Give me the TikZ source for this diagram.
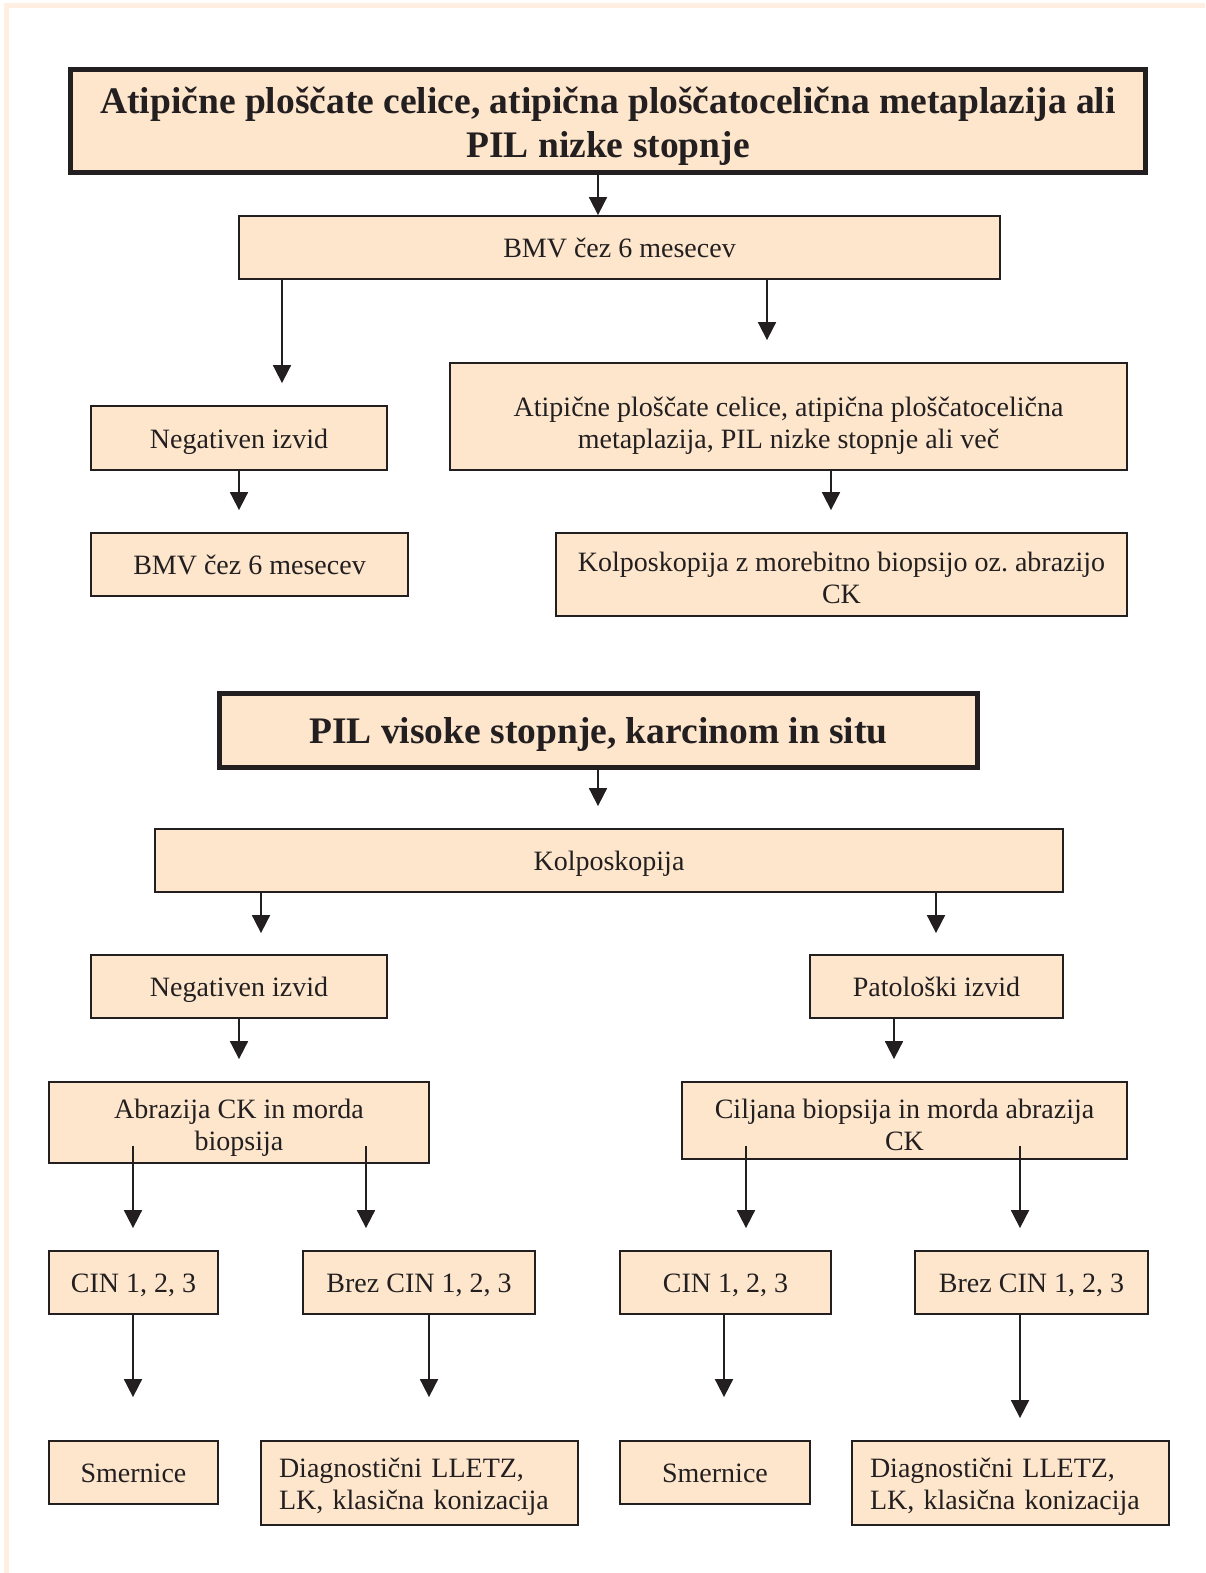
\documentclass[tikz,border=0pt]{standalone}
\usepackage{fontspec}
\setmainfont{Liberation Serif}
\usetikzlibrary{arrows.meta,calc}
\definecolor{boxfill}{RGB}{253,230,204}
\definecolor{ink}{RGB}{35,31,32}
\definecolor{framec}{RGB}{254,239,226}
\newcommand{\bxl}[2][10pt]{\raisebox{-#1}[0pt][0pt]{#2}}
\frenchspacing
\begin{document}
\begin{tikzpicture}[x=1pt,y=-1pt,
  box/.style={draw=ink, line width=1.8pt, fill=boxfill, text=ink, inner sep=0pt,
    font=\fontsize{28}{32}\selectfont, align=center},
  headbox/.style={box, line width=5pt, font=\fontsize{37.5}{44}\bfseries\selectfont},
  arr/.style={draw=ink, line width=1.8pt, -{Triangle[width=18pt,length=18pt]}}]
\useasboundingbox (0,0) rectangle (1205,1573);
% frame
\fill[framec] (4,3) rectangle (1205,8);
\fill[framec] (4,3) rectangle (9,1573);
% columns
\foreach \n/\x in {598/598,282/282,767/767,239/239,831/831,261/261,936/936,894/894,133/133,366/366,746/746,1020/1020,429/429,724/724}
  {\coordinate (x\n) at (\x,0);}
% nodes
\node[headbox, minimum width=1075pt, minimum height=103pt] (h1) at (608,121)
  {\bxl[15pt]{Atipične ploščate celice, atipična ploščatocelična metaplazija ali}\\\bxl[15pt]{PIL nizke stopnje}};
\node[box, minimum width=761pt, minimum height=63pt] (bmv) at (619.5,247.5) {\bxl{BMV čez 6 mesecev}};
\node[box, minimum width=296pt, minimum height=64pt] (neg1) at (239,438) {\bxl{Negativen izvid}};
\node[box, minimum width=677pt, minimum height=107pt] (atip) at (788.5,416.5)
  {\bxl[16pt]{Atipične ploščate celice, atipična ploščatocelična}\\\bxl[16pt]{metaplazija, PIL nizke stopnje ali več}};
\node[box, minimum width=317pt, minimum height=63pt] (bmv2) at (249.5,564.5) {\bxl{BMV čez 6 mesecev}};
\node[box, minimum width=571pt, minimum height=83pt] (kolz) at (841.5,574.5)
  {\bxl[12.5pt]{Kolposkopija z morebitno biopsijo oz. abrazijo}\\\bxl[12.5pt]{CK}};
\node[headbox, minimum width=758pt, minimum height=74pt] (h2) at (598.5,730.5)
  {\bxl[12.5pt]{PIL visoke stopnje, karcinom in situ}};
\node[box, minimum width=908pt, minimum height=63pt] (kolp) at (609,860.5) {\bxl{Kolposkopija}};
\node[box, minimum width=296pt, minimum height=63pt] (neg2) at (239,986.5) {\bxl{Negativen izvid}};
\node[box, minimum width=253pt, minimum height=63pt] (pat) at (936.5,986.5) {\bxl{Patološki izvid}};
\node[box, minimum width=380pt, minimum height=81pt] (abr) at (239,1122.5)
  {\bxl[12pt]{Abrazija CK in morda}\\\bxl[12pt]{biopsija}};
\node[box, minimum width=445pt, minimum height=77pt] (cil) at (904.5,1120.5)
  {\bxl[14pt]{Ciljana biopsija in morda abrazija}\\\bxl[14pt]{CK}};
\node[box, minimum width=169pt, minimum height=63pt] (cina) at (133.5,1282.5) {\bxl{CIN 1, 2, 3}};
\node[box, minimum width=232pt, minimum height=63pt] (breza) at (419,1282.5) {\bxl{Brez CIN 1, 2, 3}};
\node[box, minimum width=211pt, minimum height=63pt] (cinb) at (725.5,1282.5) {\bxl{CIN 1, 2, 3}};
\node[box, minimum width=233pt, minimum height=63pt] (brezb) at (1031.5,1282.5) {\bxl{Brez CIN 1, 2, 3}};
\node[box, minimum width=169pt, minimum height=63pt] (smea) at (133.5,1472.5) {\bxl{Smernice}};
\node[box, minimum width=317pt, minimum height=84pt, text width=281pt, align=left] (diaga) at (419.5,1483)
  {\bxl[10.5pt]{Diagnostični LLETZ,}\\\bxl[10.5pt]{LK, klasična konizacija}};
\node[box, minimum width=190pt, minimum height=63pt] (smeb) at (715,1472.5) {\bxl{Smernice}};
\node[box, minimum width=317pt, minimum height=84pt, text width=281pt, align=left] (diagb) at (1010.5,1483)
  {\bxl[10.5pt]{Diagnostični LLETZ,}\\\bxl[10.5pt]{LK, klasična konizacija}};
% arrows
\draw[arr] (h1.south -| x598) -- (bmv.north -| x598);
\draw[arr] (bmv.south -| x282) -- ($(neg1.north -| x282)+(0,-22)$);
\draw[arr] (bmv.south -| x767) -- ($(atip.north -| x767)+(0,-22)$);
\draw[arr] (neg1.south -| x239) -- ($(bmv2.north -| x239)+(0,-22)$);
\draw[arr] (atip.south -| x831) -- ($(kolz.north -| x831)+(0,-22)$);
\draw[arr] (h2.south -| x598) -- ($(kolp.north -| x598)+(0,-22)$);
\draw[arr] (kolp.south -| x261) -- ($(neg2.north -| x261)+(0,-21)$);
\draw[arr] (kolp.south -| x936) -- ($(pat.north -| x936)+(0,-21)$);
\draw[arr] (neg2.south -| x239) -- ($(abr.north -| x239)+(0,-22)$);
\draw[arr] (pat.south -| x894) -- ($(cil.north -| x894)+(0,-22)$);
\draw[arr] ($(abr.south -| x133)+(0,-18)$) -- ($(cina.north -| x133)+(0,-22)$);
\draw[arr] ($(abr.south -| x366)+(0,-18)$) -- ($(breza.north -| x366)+(0,-22)$);
\draw[arr] ($(cil.south -| x746)+(0,-14)$) -- ($(cinb.north -| x746)+(0,-22)$);
\draw[arr] ($(cil.south -| x1020)+(0,-14)$) -- ($(brezb.north -| x1020)+(0,-22)$);
\draw[arr] (cina.south -| x133) -- ($(smea.north -| x133)+(0,-43)$);
\draw[arr] (breza.south -| x429) -- ($(diaga.north -| x429)+(0,-43)$);
\draw[arr] (cinb.south -| x724) -- ($(smeb.north -| x724)+(0,-43)$);
\draw[arr] (brezb.south -| x1020) -- ($(diagb.north -| x1020)+(0,-22)$);
\end{tikzpicture}
\end{document}
